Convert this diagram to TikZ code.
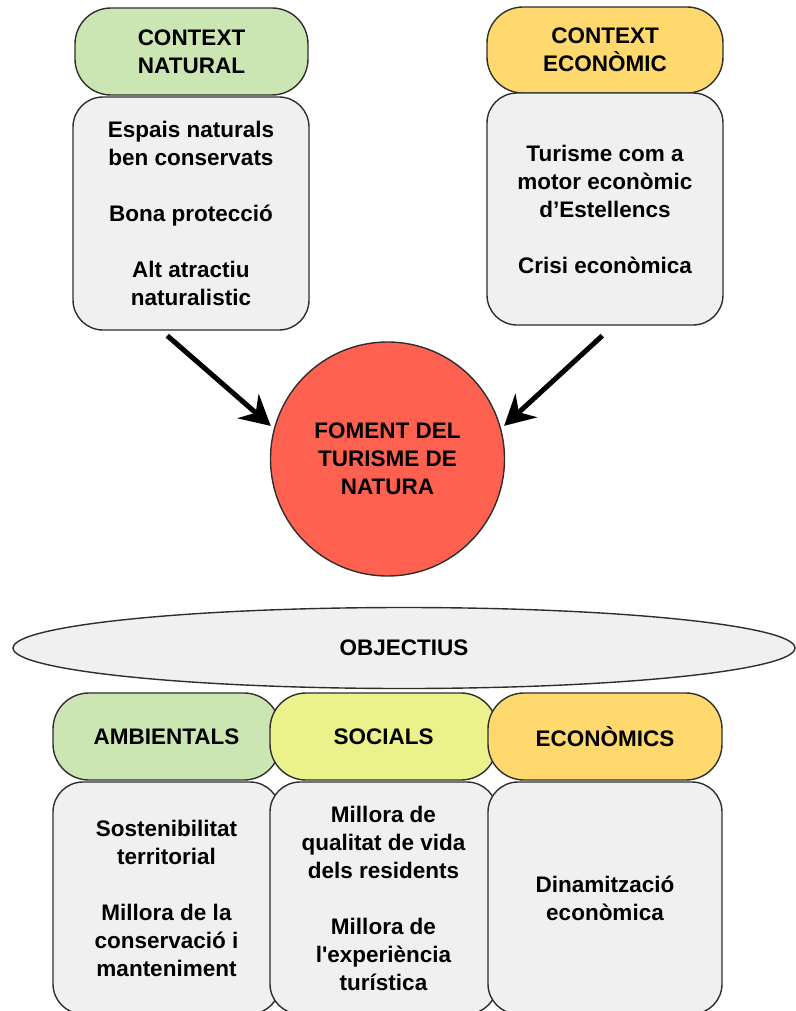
\documentclass[tikz,border=0pt]{standalone}
\usepackage{fontspec}
\setmainfont{Liberation Sans}
\usetikzlibrary{shapes.geometric,arrows.meta,calc}
\definecolor{cgreen}{HTML}{CCE6B3}
\definecolor{corange}{HTML}{FFD96E}
\definecolor{cyellow}{HTML}{EBF28C}
\definecolor{cgray}{HTML}{F0F0F0}
\definecolor{cred}{HTML}{FF6150}
\definecolor{cline}{HTML}{2E2E2E}
\tikzset{
  txt/.style={font=\fontsize{22.5}{28}\selectfont\bfseries, align=center, text=black},
  box/.style={txt, draw=cline, line width=1.4pt, rectangle, rounded corners=30pt, inner sep=0pt},
  hdr/.style={box, rounded corners=36pt},
  bodybox/.style={box, fill=cgray},
  bigarrow/.style={line width=5pt, draw=black, -{Stealth[length=30pt,width=32pt,inset=10pt]}, shorten >=4pt},
}
\begin{document}
\begin{tikzpicture}[x=1pt,y=-1pt]
\useasboundingbox (0,0) rectangle (795,1011);
% top left
\node[hdr, fill=cgreen, minimum width=233pt, minimum height=87pt] (hn) at (191.5,51.5) {CONTEXT\\NATURAL};
\node[bodybox, minimum width=236pt, minimum height=233pt] (bn) at (191,213.5) {Espais naturals\\ben conservats\\[28pt]Bona protecció\\[28pt]Alt atractiu\\naturalistic};
% top right
\node[hdr, fill=corange, minimum width=236pt, minimum height=86pt] (he) at (605,50) {CONTEXT\\ECONÒMIC};
\node[bodybox, minimum width=236pt, minimum height=232pt] (be) at (605,209) {Turisme com a\\motor econòmic\\d’Estellencs\\[28pt]Crisi econòmica};
% circle
\node[txt, circle, draw=cline, line width=1.4pt, fill=cred, minimum size=234pt, inner sep=0pt] (circ) at (387.5,459) {FOMENT DEL\\TURISME DE\\NATURA};
\draw[bigarrow] ($(bn.south west)+(95,5)$) -- (circ.165);
\draw[bigarrow] ($(be.south west)+(116,10)$) -- (circ.15);
% objectius
\node[txt, ellipse, draw=cline, line width=1.4pt, fill=cgray, minimum width=782pt, minimum height=81pt, inner sep=0pt] (obj) at (404,648) {OBJECTIUS};
% bottom headers
\node[hdr, fill=cgreen, minimum width=227pt, minimum height=87pt] (ha) at (166.5,736.5) {AMBIENTALS};
\node[hdr, fill=cyellow, minimum width=227pt, minimum height=87pt] (hs) at (383.5,736.5) {SOCIALS};
\node[hdr, fill=corange, minimum width=234pt, minimum height=87pt] (hc) at (605,736.5) {ECONÒMICS};
% bottom bodies
\node[bodybox, minimum width=227pt, minimum height=232pt] (ba) at (166.5,898) {Sostenibilitat\\territorial\\[28pt]Millora de la\\conservació i\\manteniment};
\node[bodybox, minimum width=227pt, minimum height=232pt] (bs) at (383.5,898) {Millora de\\qualitat de vida\\dels residents\\[28pt]Millora de\\l\textquotesingle experiència\\turística};
\node[bodybox, minimum width=234pt, minimum height=232pt] (bc) at (605,898) {Dinamització\\econòmica};
\end{tikzpicture}
\end{document}
